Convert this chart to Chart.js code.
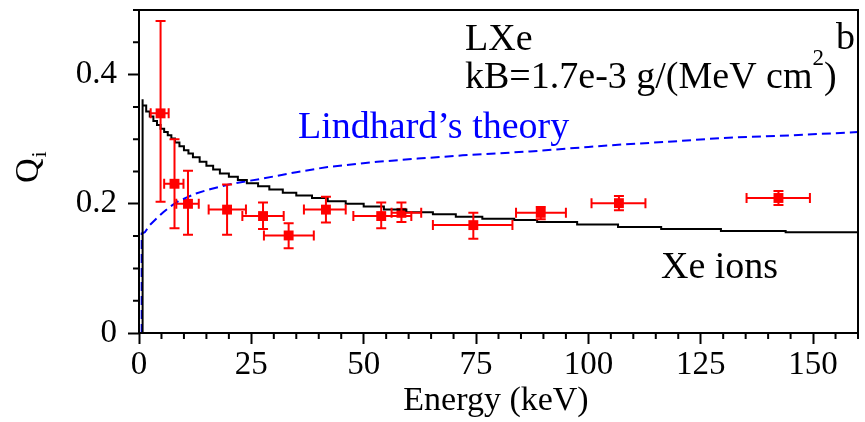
<!DOCTYPE html>
<html lang="en">
<head>
    <meta charset="UTF-8">
    <title>Qi vs Energy - LXe</title>
    <script src="https://cdn.jsdelivr.net/npm/chart.js"></script>
    <style>
        body { margin: 0; background: #fff; }
        canvas { display: block; }
    </style>
</head>
<body>
    <canvas id="qChart" width="865" height="422"></canvas>

    <script>
        // measured points (red)
        const ptE    = [4.8, 7.9, 10.9, 19.6, 27.6, 33.3, 41.6, 53.9, 58.4, 74.4, 89.4, 106.8, 142.3];
        const ptQ    = [0.340, 0.231, 0.200, 0.191, 0.181, 0.151, 0.191, 0.181, 0.186, 0.167, 0.186, 0.201, 0.209];
        const ptElo  = [2.6, 5.6, 8.3, 15.5, 23.0, 27.8, 36.7, 47.7, 56.2, 65.4, 83.9, 100.7, 135.2];
        const ptEhi  = [6.6, 9.9, 13.3, 23.8, 32.2, 38.9, 46.0, 60.6, 62.8, 83.1, 95.0, 112.7, 149.3];
        const ptQlo  = [0.203, 0.162, 0.152, 0.152, 0.161, 0.131, 0.171, 0.162, 0.172, 0.146, 0.176, 0.190, 0.198];
        const ptQhi  = [0.483, 0.300, 0.251, 0.230, 0.202, 0.170, 0.211, 0.202, 0.202, 0.186, 0.195, 0.212, 0.220];

        // Xe ions curve (black histogram)
        const xeE = [0.8, 0.8, 1.6, 2.4, 3.2, 4.0, 4.8, 5.6, 6.4, 7.2, 8.0, 9.0, 10.0, 11.0, 12.0, 13.5, 15.0, 16.5, 18.0, 20.0,
                     22.0, 24.0, 26.5, 29.0, 32.0, 35.0, 38.5, 42.0, 46.0, 50.0, 54.5, 59.5, 65.4, 70.5, 76.4, 83.5, 88.6,
                     97.5, 106.6, 116.2, 129.5, 143.9, 156.4, 160];
        const xeQ = [0, 0.362, 0.352, 0.343, 0.335, 0.328, 0.322, 0.316, 0.311, 0.306, 0.301, 0.295, 0.289, 0.283, 0.278, 0.272,
                     0.265, 0.259, 0.253, 0.247, 0.242, 0.237, 0.232, 0.227, 0.222, 0.217, 0.213, 0.209, 0.204, 0.200, 0.196,
                     0.191, 0.187, 0.184, 0.180, 0.177, 0.175, 0.172, 0.168, 0.164, 0.161, 0.158, 0.156, 0.156];

        // Lindhard's theory (blue dashed)
        const lhE = [0.6, 0.6, 1.3, 2.4, 4, 5.4, 7, 9, 12.7, 16, 20, 24, 27.5, 35, 42, 53, 62, 72, 87, 100, 108, 120, 130, 145, 160];
        const lhQ = [0, 0.154, 0.156, 0.167, 0.178, 0.187, 0.196, 0.205, 0.216, 0.223, 0.230, 0.235, 0.239, 0.249, 0.257,
                     0.265, 0.270, 0.275, 0.281, 0.288, 0.292, 0.297, 0.302, 0.306, 0.311];

        const xMajor = 25, yMajor = 0.2;
        const serif = "'Liberation Serif', 'DejaVu Serif', serif";
        Chart.defaults.font.family = serif;
        Chart.defaults.color = '#000';

        function isMajor(v, step) {
            return Math.abs(v / step - Math.round(v / step)) < 1e-6;
        }

        const toXY = (xs, ys) => xs.map((x, i) => ({ x: x, y: ys[i] }));

        const errorBars = {
            id: 'errorBars',
            afterDatasetsDraw(chart) {
                const c = chart.ctx, sx = chart.scales.x, sy = chart.scales.y;
                const cap = 5;
                c.save();
                c.strokeStyle = '#ff0000';
                c.lineWidth = 2;
                ptE.forEach((e, i) => {
                    const x = sx.getPixelForValue(e), y = sy.getPixelForValue(ptQ[i]);
                    const x1 = sx.getPixelForValue(ptElo[i]), x2 = sx.getPixelForValue(ptEhi[i]);
                    const y1 = sy.getPixelForValue(ptQlo[i]), y2 = sy.getPixelForValue(ptQhi[i]);
                    c.beginPath();
                    c.moveTo(x1, y); c.lineTo(x2, y);
                    c.moveTo(x1, y - cap); c.lineTo(x1, y + cap);
                    c.moveTo(x2, y - cap); c.lineTo(x2, y + cap);
                    c.moveTo(x, y1); c.lineTo(x, y2);
                    c.moveTo(x - cap, y1); c.lineTo(x + cap, y1);
                    c.moveTo(x - cap, y2); c.lineTo(x + cap, y2);
                    c.stroke();
                });
                c.restore();
            }
        };

        const frameAndText = {
            id: 'frameAndText',
            afterDraw(chart) {
                const c = chart.ctx, a = chart.chartArea;
                const sx = chart.scales.x, sy = chart.scales.y;
                c.save();
                // minor ticks
                c.strokeStyle = '#000';
                c.lineWidth = 2;
                c.beginPath();
                sx.ticks.forEach(t => {
                    if (!isMajor(t.value, xMajor)) {
                        const px = sx.getPixelForValue(t.value);
                        c.moveTo(px, a.bottom); c.lineTo(px, a.bottom + 6);
                    }
                });
                sy.ticks.forEach(t => {
                    if (!isMajor(t.value, yMajor)) {
                        const py = sy.getPixelForValue(t.value);
                        c.moveTo(a.left - 6, py); c.lineTo(a.left, py);
                    }
                });
                c.stroke();
                // frame
                c.strokeRect(a.left, a.top, a.right - a.left, a.bottom - a.top);

                // annotations
                c.fillStyle = '#000';
                c.textBaseline = 'alphabetic';
                c.textAlign = 'left';
                c.font = '38px ' + serif;
                c.fillText('LXe', 465, 50);
                c.fillText('b', 836, 49);
                const kb = 'kB=1.7e-3 g/(MeV cm';
                c.fillText(kb, 465, 88);
                let w = c.measureText(kb).width;
                c.font = '23px ' + serif;
                c.fillText('2', 465 + w, 65);
                const w2 = c.measureText('2').width;
                c.font = '38px ' + serif;
                c.fillText(')', 465 + w + w2, 88);
                c.fillText('Xe ions', 661, 278);
                c.fillStyle = '#0000ff';
                c.fillText('Lindhard\u2019s theory', 298, 138);

                // axis titles
                c.fillStyle = '#000';
                c.font = '34px ' + serif;
                c.textAlign = 'center';
                c.fillText('Energy (keV)', 496, 410);
                c.translate(38, 183);
                c.rotate(-Math.PI / 2);
                c.textAlign = 'left';
                c.fillText('Q', 0, 0);
                const qw = c.measureText('Q').width;
                c.font = '22px ' + serif;
                c.fillText('i', qw + 1, 8);
                c.restore();
            }
        };

        new Chart(document.getElementById('qChart'), {
            type: 'scatter',
            data: {
                datasets: [
                    {
                        label: 'Xe ions',
                        type: 'line',
                        data: toXY(xeE, xeQ),
                        stepped: 'after',
                        borderColor: '#000',
                        borderWidth: 2,
                        pointRadius: 0,
                        fill: false
                    },
                    {
                        label: "Lindhard's theory",
                        type: 'line',
                        data: toXY(lhE, lhQ),
                        borderColor: '#0000ff',
                        borderWidth: 2,
                        borderDash: [9, 5],
                        pointRadius: 0,
                        tension: 0,
                        fill: false
                    },
                    {
                        label: 'data',
                        data: toXY(ptE, ptQ),
                        pointStyle: 'rect',
                        pointRadius: 7,
                        backgroundColor: '#ff0000',
                        borderColor: '#ff0000',
                        borderWidth: 0
                    }
                ]
            },
            options: {
                responsive: false,
                animation: false,
                layout: { padding: { top: 10, right: -1, left: 0, bottom: 0 } },
                plugins: { legend: { display: false }, tooltip: { enabled: false } },
                scales: {
                    x: {
                        type: 'linear',
                        min: 0,
                        max: 160,
                        afterFit: s => { s.height = 89; s.paddingLeft = 0; s.paddingRight = 0; },
                        border: { display: false },
                        grid: {
                            drawOnChartArea: false,
                            tickLength: 11,
                            tickWidth: 2,
                            tickColor: ctx => isMajor(ctx.tick.value, xMajor) ? '#000' : 'rgba(0,0,0,0)'
                        },
                        ticks: {
                            stepSize: 5,
                            autoSkip: false,
                            maxRotation: 0,
                            padding: 2,
                            font: { size: 33 },
                            color: '#000',
                            callback: v => isMajor(v, xMajor) ? String(Math.round(v)) : ''
                        }
                    },
                    y: {
                        min: 0,
                        max: 0.5,
                        afterFit: s => { s.width = 139; s.paddingTop = 0; s.paddingBottom = 0; },
                        border: { display: false },
                        grid: {
                            drawOnChartArea: false,
                            tickLength: 11,
                            tickWidth: 2,
                            tickColor: ctx => isMajor(ctx.tick.value, yMajor) ? '#000' : 'rgba(0,0,0,0)'
                        },
                        ticks: {
                            stepSize: 0.05,
                            autoSkip: false,
                            padding: 11,
                            font: { size: 33 },
                            color: '#000',
                            callback: v => isMajor(v, yMajor) ? (Math.round(v * 10) / 10).toString() : ''
                        }
                    }
                }
            },
            plugins: [errorBars, frameAndText]
        });
    </script>
</body>
</html>
